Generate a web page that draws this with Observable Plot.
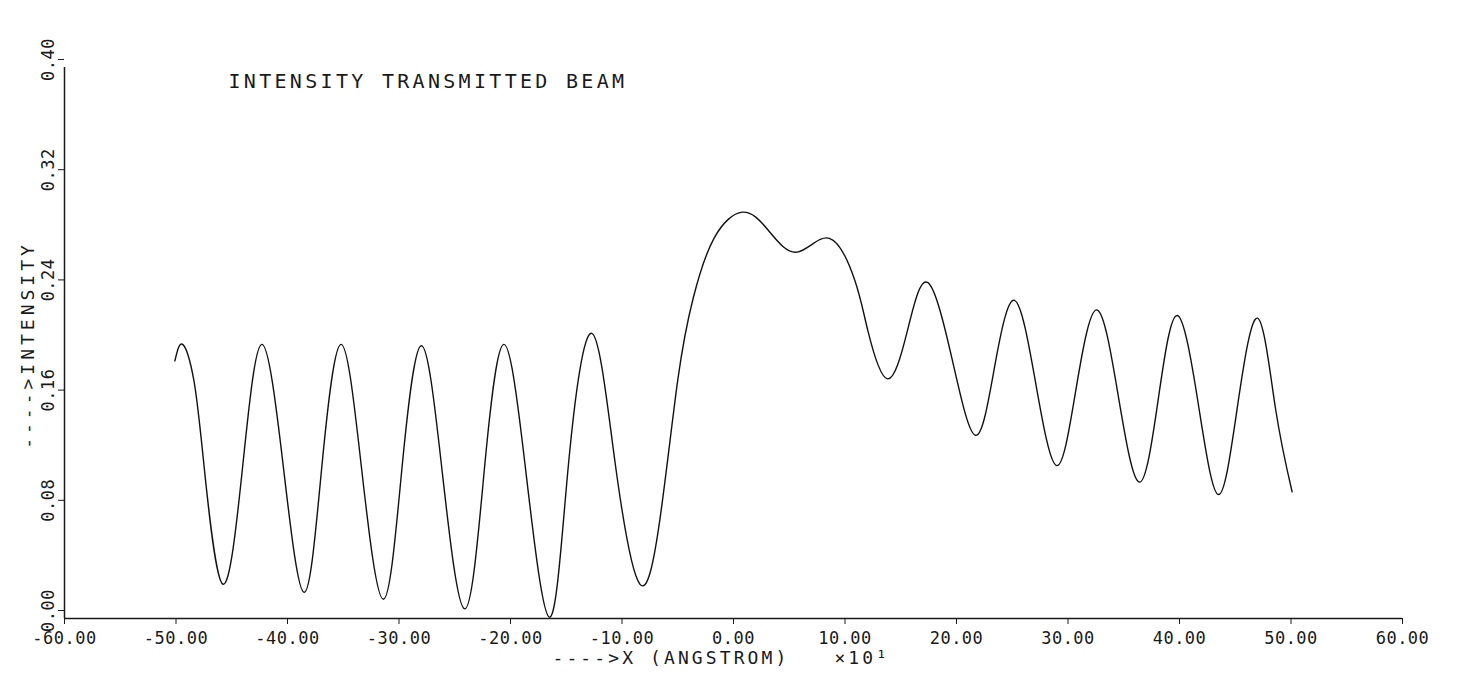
<!DOCTYPE html>
<html>
<head>
<meta charset="utf-8">
<script src="https://cdn.jsdelivr.net/npm/d3@7"></script>
<script src="https://cdn.jsdelivr.net/npm/@observablehq/plot@0.6"></script>
<style>
html, body { margin: 0; padding: 0; background: #fff; }
#chart svg { display: block; }
</style>
</head>
<body>
<div id="chart"></div>
<script>
// Curve samples (x in Angstrom ×10, intensity)
const xValues = [-50.1, -49.4, -48.4, -47.5, -45.8, -44.0, -42.3, -40.4, -38.5, -36.9, -35.2, -33.4, -31.4,
  -29.7, -28.0, -26.2, -24.1, -22.3, -20.6, -18.7, -16.5, -14.8, -12.7, -10.6, -8.4, -6.6,
  -5.0, -3.6, -1.75, 0.8, 3.1, 5.7, 8.6, 10.9, 12.05, 13.8, 15.6, 17.4, 19.6, 21.7, 23.4, 25.2,
  27.1, 29.0, 30.75, 32.6, 34.5, 36.4, 38.1, 39.8, 41.7, 43.5, 45.2, 47.0, 48.6, 50.1];
const yValues = [0.187, 0.199, 0.173, 0.112, 0.025, 0.112, 0.199, 0.112, 0.019, 0.112, 0.199, 0.112, 0.014,
  0.112, 0.198, 0.112, 0.007, 0.112, 0.199, 0.112, 0.001, 0.112, 0.207, 0.112, 0.025, 0.072,
  0.173, 0.233, 0.276, 0.295, 0.282, 0.266, 0.276, 0.245, 0.209, 0.174, 0.209, 0.244, 0.1885, 0.133, 0.182, 0.231,
  0.171, 0.111, 0.168, 0.224, 0.162, 0.099, 0.1595, 0.220, 0.155, 0.090, 0.154, 0.218, 0.153, 0.092];

const xTicks = [-60, -50, -40, -30, -20, -10, 0, 10, 20, 30, 40, 50, 60];
const yTicks = [0, 0.08, 0.16, 0.24, 0.32, 0.40];

const titleText = "INTENSITY TRANSMITTED BEAM";
const xLabelText = "---->X (ANGSTROM)";
const xScaleText = "×10¹";
const yLabelText = "---->INTENSITY";

const data = xValues.map((x, i) => ({x, y: yValues[i]}));

const ink = "#1a1a1a";
const plot = Plot.plot({
  width: 1461,
  height: 675,
  marginLeft: 64,
  marginRight: 59,
  marginTop: 67,
  marginBottom: 57,
  style: {fontFamily: "'DejaVu Sans Mono', monospace", fontSize: "17px", color: ink, background: "#fff"},
  x: {domain: [-60, 60]},
  y: {domain: [0, 0.40]},
  marks: [
    Plot.axisX({ticks: xTicks, tickFormat: d => d.toFixed(2), tickSize: 6, tickPadding: 7, label: null, fontSize: 17}),
    Plot.axisY({ticks: yTicks, tickFormat: d => d.toFixed(2), tickSize: 6, tickPadding: 5, tickRotate: -90, label: null, fontSize: 17, dy: -8}),
    Plot.ruleY([0], {strokeWidth: 1.5, stroke: ink}),
    Plot.ruleX([-60], {strokeWidth: 1.5, stroke: ink}),
    Plot.line(data, {x: "x", y: "y", curve: "natural", stroke: "#111", strokeWidth: 1.4}),
    Plot.text([titleText], {text: d => d, frameAnchor: "top-left", dx: 164, dy: 14, textAnchor: "start", lineAnchor: "middle", fontSize: 20, fill: ink}),
    Plot.text([xLabelText], {text: d => d, frameAnchor: "bottom", dx: -181, dy: 40, textAnchor: "start", lineAnchor: "middle", fontSize: 18, fill: ink}),
    Plot.text([xScaleText], {text: d => d, frameAnchor: "bottom", dx: 101, dy: 40, textAnchor: "start", lineAnchor: "middle", fontSize: 18, fill: ink}),
    Plot.text([yLabelText], {text: d => d, frameAnchor: "left", dx: -36, dy: 2, rotate: -90, textAnchor: "middle", lineAnchor: "middle", fontSize: 18, fill: ink})
  ]
});
document.getElementById("chart").appendChild(plot);

// letter spacing to mimic the plotter's wide character pitch
const spacing = new Map([
  [titleText, "3.3px"],
  [xLabelText, "3.1px"],
  [xScaleText, "3px"],
  [yLabelText, "4px"]
]);
d3.select(plot).selectAll("text").each(function() {
  const t = this.textContent;
  if (spacing.has(t)) this.style.letterSpacing = spacing.get(t);
  else if (/^-?\d+\.\d\d$/.test(t)) this.style.letterSpacing = "0.5px";
});
</script>
</body>
</html>
